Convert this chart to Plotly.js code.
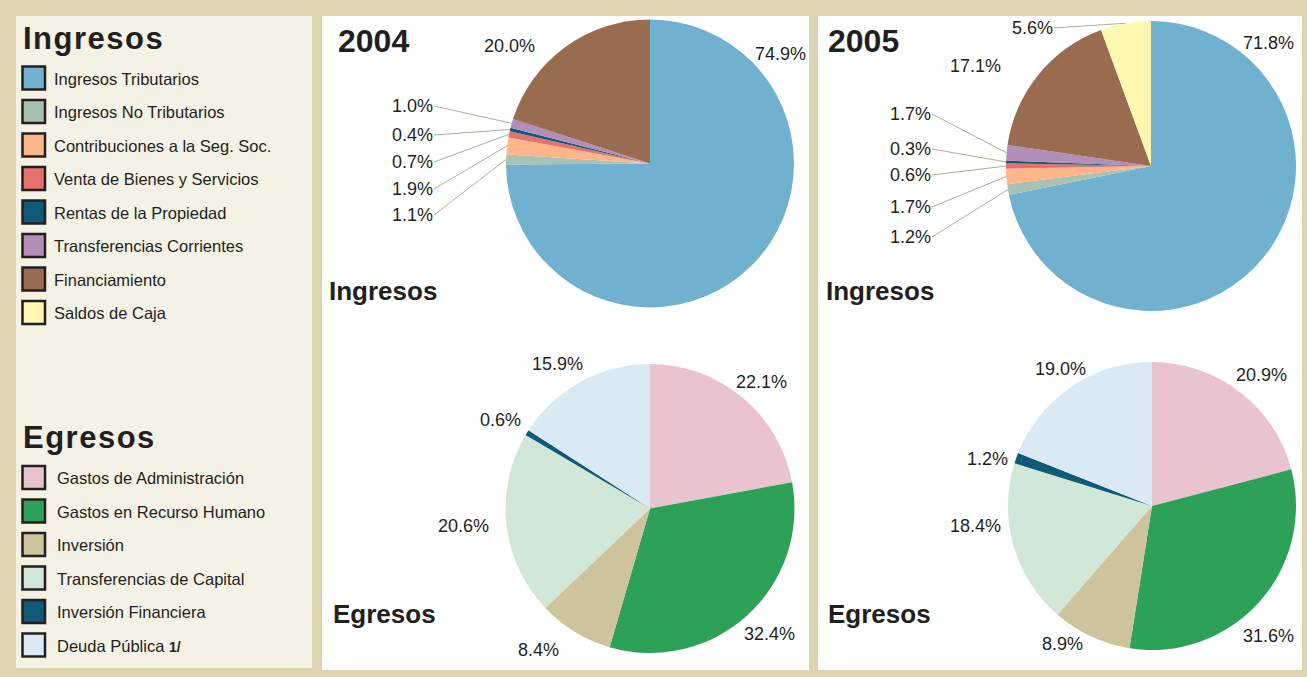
<!DOCTYPE html>
<html>
<head>
<meta charset="utf-8">
<script src="https://cdn.plot.ly/plotly-3.0.1.min.js"></script>
<style>
  html, body { margin: 0; padding: 0; background: #ddd4b1; }
  #chart { width: 1307px; height: 677px; }
</style>
</head>
<body>
<div id="chart"></div>
<script>
// ---------------- DATA ----------------
const years = ['2004', '2005'];

const ingresosCats = [
  'Ingresos Tributarios',
  'Ingresos No Tributarios',
  'Contribuciones a la Seg. Soc.',
  'Venta de Bienes y Servicios',
  'Rentas de la Propiedad',
  'Transferencias Corrientes',
  'Financiamiento',
  'Saldos de Caja'
];
const ingresos2004 = [74.9, 1.1, 1.9, 0.7, 0.4, 1.0, 20.0, 0];
const ingresos2005 = [71.8, 1.2, 1.7, 0.6, 0.3, 1.7, 17.1, 5.6];

const egresosCats = [
  'Gastos de Administración',
  'Gastos en Recurso Humano',
  'Inversión',
  'Transferencias de Capital',
  'Inversión Financiera',
  'Deuda Pública 1/'
];
const egresos2004 = [22.1, 32.4, 8.4, 20.6, 0.6, 15.9];
const egresos2005 = [20.9, 31.6, 8.9, 18.4, 1.2, 19.0];

// ---------------- STYLE ----------------
const ingresosColors = ['#70b1cf', '#a9c2b2', '#fdb68a', '#e4716c', '#0f5a78', '#b28eb9', '#996b4f', '#fff8b0'];
const egresosColors  = ['#e9c4ce', '#2ca157', '#cdc39d', '#d1e7d8', '#0f5a78', '#d9eaf4'];

const W = 1307, H = 677;
const TXT = '#231f20';
const FONT = 'Liberation Sans, Arial, Helvetica, sans-serif';
const LEADER = '#b4ac97';
const px = x => x / W;
const py = y => 1 - y / H;

// pie geometry (pixel layout) and label placement (pixels; 'lead' = right-aligned label with leader line)
const pies = [
  { values: ingresos2004, labels: ingresosCats, colors: ingresosColors, cx: 650, cy: 163.5, r: 144,
    lab: [{x:780,y:54}, {x:432,y:215,lead:1}, {x:432,y:189,lead:1}, {x:432,y:162,lead:1},
          {x:432,y:135,lead:1}, {x:432,y:106,lead:1}, {x:509,y:46}, null] },
  { values: ingresos2005, labels: ingresosCats, colors: ingresosColors, cx: 1151, cy: 166, r: 145,
    lab: [{x:1268,y:43}, {x:930,y:237,lead:1}, {x:930,y:207,lead:1}, {x:930,y:175,lead:1},
          {x:930,y:149,lead:1}, {x:930,y:114,lead:1}, {x:976,y:66}, {x:1052,y:28,lead:1}] },
  { values: egresos2004, labels: egresosCats, colors: egresosColors, cx: 650, cy: 508.5, r: 144.5,
    lab: [{x:761,y:382}, {x:769,y:634}, {x:538,y:650}, {x:463,y:526}, {x:500,y:420}, {x:557,y:364}] },
  { values: egresos2005, labels: egresosCats, colors: egresosColors, cx: 1152, cy: 506, r: 144,
    lab: [{x:1261,y:375}, {x:1268,y:636}, {x:1062,y:644}, {x:976,y:526}, {x:987,y:459}, {x:1060,y:369}] }
];

const traces = [];
const annotations = [];
const shapes = [];

// panels
shapes.push({type:'rect', xref:'paper', yref:'paper', x0:px(16), x1:px(312), y0:py(668), y1:py(16),
             fillcolor:'#f4f1e5', line:{width:0}, layer:'below'});
shapes.push({type:'rect', xref:'paper', yref:'paper', x0:px(322), x1:px(809), y0:py(670), y1:py(16),
             fillcolor:'#ffffff', line:{width:0}, layer:'below'});
shapes.push({type:'rect', xref:'paper', yref:'paper', x0:px(818), x1:px(1302), y0:py(670), y1:py(16),
             fillcolor:'#ffffff', line:{width:0}, layer:'below'});

pies.forEach(p => {
  traces.push({
    type: 'pie',
    values: p.values,
    labels: p.labels,
    sort: false,
    direction: 'clockwise',
    rotation: 0,
    marker: { colors: p.colors, line: { width: 0 } },
    textinfo: 'none',
    hoverinfo: 'label+value',
    showlegend: false,
    domain: { x: [px(p.cx - p.r), px(p.cx + p.r)], y: [py(p.cy + p.r), py(p.cy - p.r)] }
  });
  const total = p.values.reduce((a, b) => a + b, 0);
  let cum = 0;
  p.values.forEach((v, i) => {
    const mid = (cum + v / 2) / total;
    cum += v;
    const L = p.lab[i];
    if (!v || !L) return;
    const text = v.toFixed(1) + '%';
    const font = { family: FONT, size: 18, color: TXT };
    if (L.lead) {
      const th = 2 * Math.PI * mid;
      const tx = p.cx + p.r * Math.sin(th);
      const ty = p.cy - p.r * Math.cos(th);
      annotations.push({ xref:'paper', yref:'paper', x: px(tx), y: py(ty), text, font,
        showarrow: true, arrowhead: 0, arrowwidth: 1, arrowcolor: LEADER, standoff: 0,
        axref: 'pixel', ayref: 'pixel', ax: L.x + 2 - tx, ay: L.y - ty,
        xanchor: 'right', yanchor: 'middle', borderpad: 0 });
    } else {
      annotations.push({ xref:'paper', yref:'paper', x: px(L.x), y: py(L.y), text, font,
        showarrow: false, xanchor: 'center', yanchor: 'middle' });
    }
  });
});

// panel titles
const boldTxt = (t, x, y, size) => annotations.push({ xref:'paper', yref:'paper', x: px(x), y: py(y),
  text: '<b>' + t + '</b>', showarrow: false, xanchor: 'left', yanchor: 'middle',
  font: { family: FONT, size, color: TXT } });
boldTxt(years[0], 336, 41, 32);
boldTxt(years[1], 826, 41, 32);
boldTxt('Ingresos', 327, 291, 26);
boldTxt('Egresos', 331, 614, 26);
boldTxt('Ingresos', 824, 291, 26);
boldTxt('Egresos', 826, 614, 26);

// legend (left panel)
const legendBlock = (title, titleY, cats, colors, y0, textX) => {
  annotations.push({ xref:'paper', yref:'paper', x: px(21), y: py(titleY),
    text: '<span style="letter-spacing:1.5px"><b>' + title + '</b></span>', showarrow: false,
    xanchor: 'left', yanchor: 'middle', font: { family: FONT, size: 31, color: TXT } });
  cats.forEach((c, i) => {
    const cy = y0 + i * 33.5;
    shapes.push({ type:'rect', xref:'paper', yref:'paper', x0: px(22.5), x1: px(45), y0: py(cy + 11.5), y1: py(cy - 11.5),
      fillcolor: colors[i], line: { color: TXT, width: 2.5 } });
    const label = c.replace(/ 1\/$/, ' <span style="font-size:14px"><b>1/</b></span>');
    annotations.push({ xref:'paper', yref:'paper', x: px(textX), y: py(cy + 0.5), text: label,
      showarrow: false, xanchor: 'left', yanchor: 'middle', font: { family: FONT, size: 16.5, color: TXT } });
  });
};
legendBlock('Ingresos', 38, ingresosCats, ingresosColors, 78, 52);
legendBlock('Egresos', 438, egresosCats, egresosColors, 477.5, 54.5);

const layout = {
  width: W, height: H,
  margin: { l: 0, r: 0, t: 0, b: 0, pad: 0 },
  paper_bgcolor: '#ddd4b1',
  plot_bgcolor: '#ddd4b1',
  showlegend: false,
  shapes, annotations,
  font: { family: FONT, color: TXT }
};

Plotly.newPlot('chart', traces, layout, { displayModeBar: false, staticPlot: true });
</script>
</body>
</html>
